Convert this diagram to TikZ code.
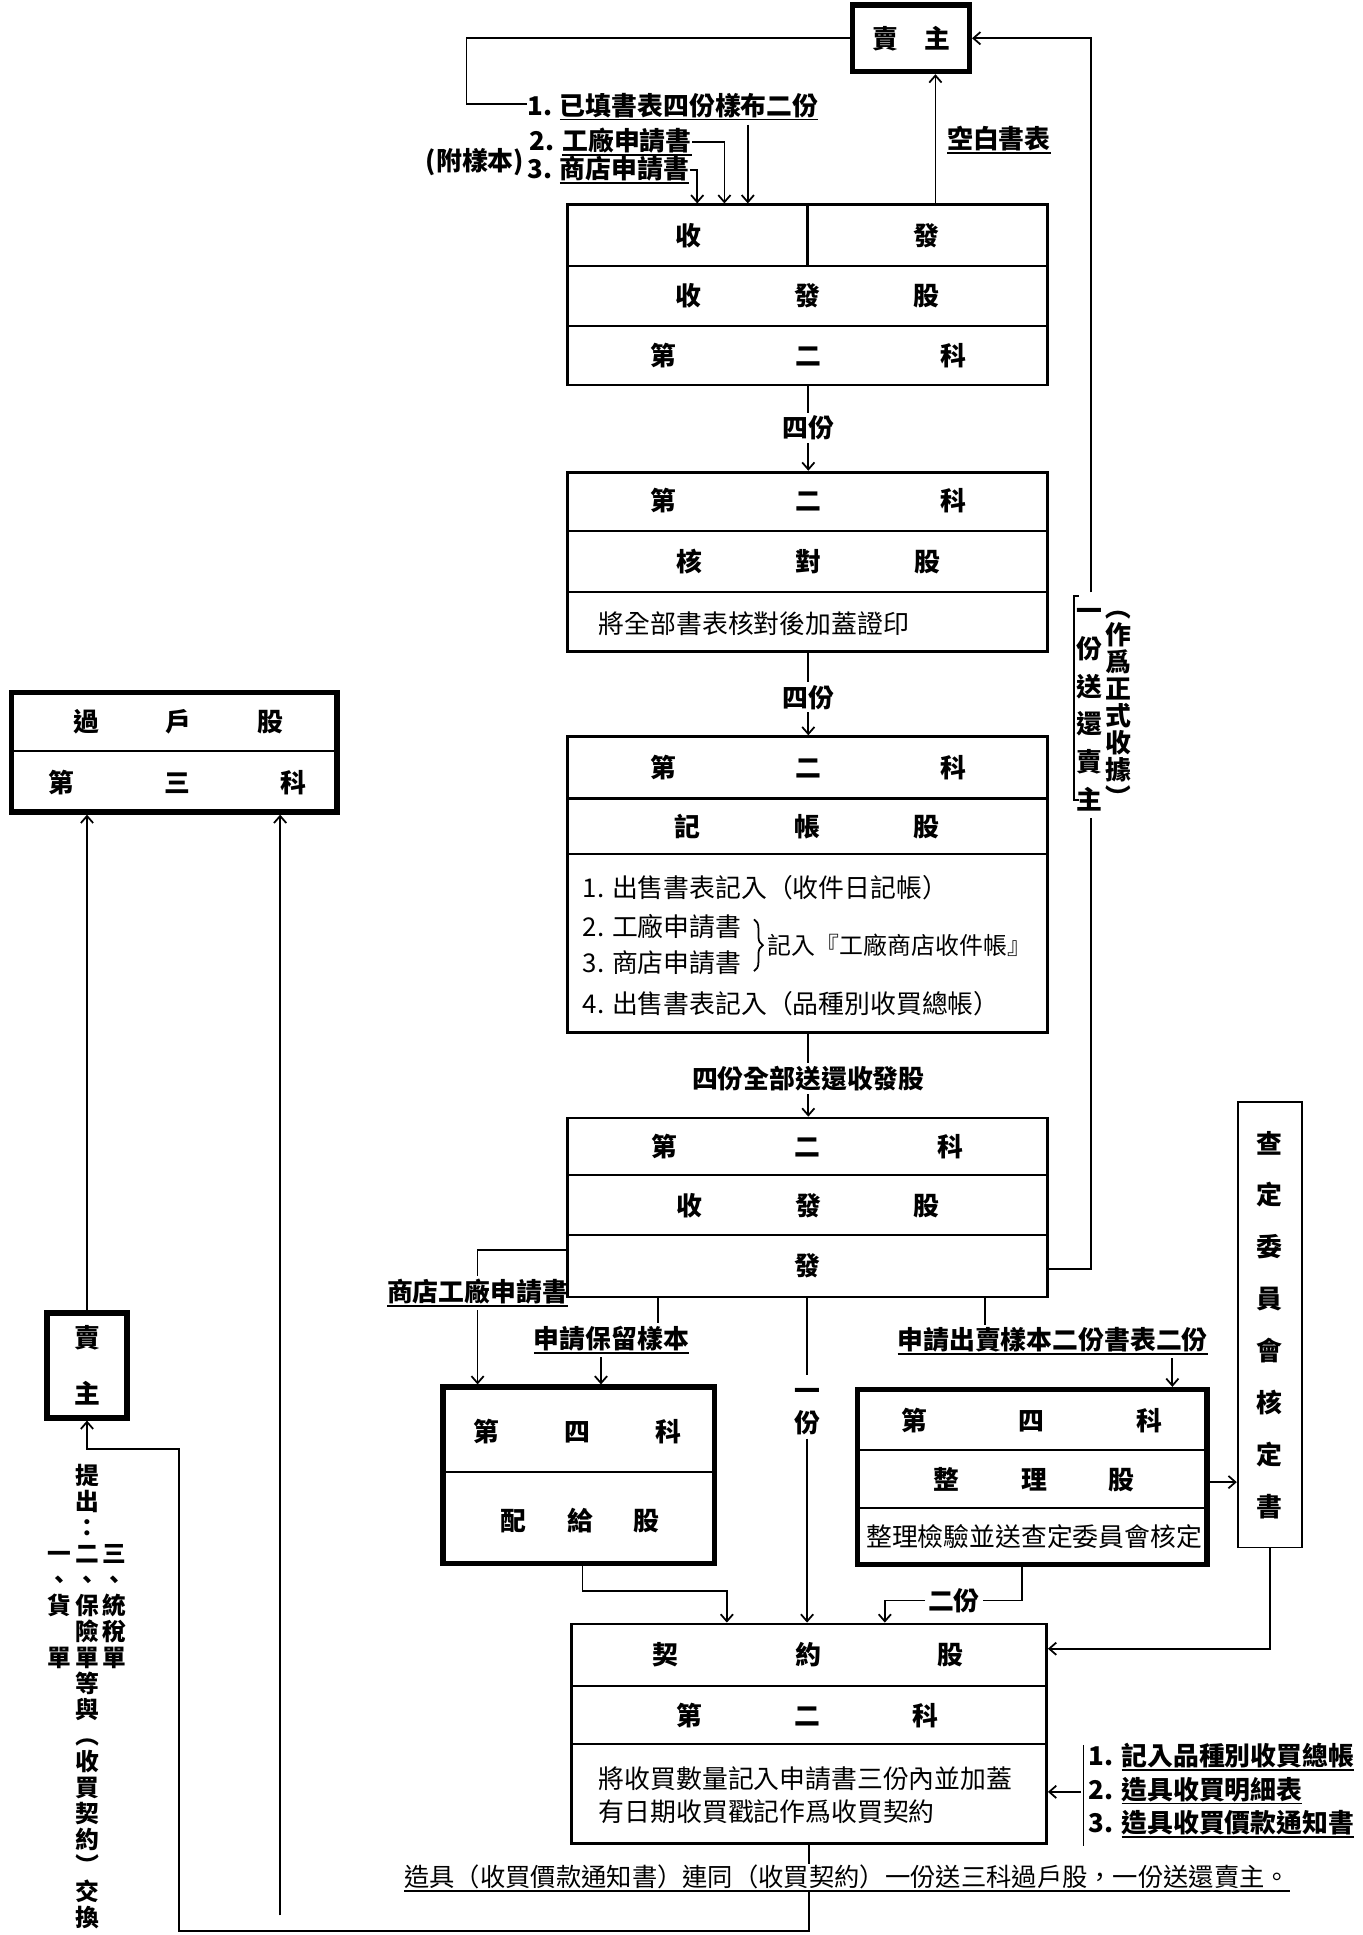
\documentclass[tikz,border=0pt]{standalone}
\usepackage{fontspec}
\usepackage{graphicx}
\newfontfamily\cjk{Noto Sans CJK TC}
\usetikzlibrary{arrows.meta,decorations.pathreplacing}
\newlength\myu \setlength\myu{0.024674cm}
\newcommand\tri[4]{\makebox[#1\myu]{#2}\makebox[#1\myu]{#3}\makebox[#1\myu]{#4}}
\newcommand\myul[1]{\setbox0=\hbox{#1}\rlap{\rule[-3pt]{\wd0}{1pt}}\box0}
\newcommand\mystrut{\vrule width 0pt height 0.88em depth 0.12em}
\newcommand\vpl{\rotatebox[origin=c]{-90}{（}}
\newcommand\vpr{\rotatebox[origin=c]{-90}{）}}
\newcommand\lbf{\cjk\bfseries\fontsize{14.7pt}{17pt}\selectfont}
\newcommand\txf{\cjk\fontsize{14.7pt}{17pt}\selectfont}
\tikzset{
 bx/.style={draw, line width=1.6pt, inner sep=0pt},
 tbx/.style={draw, line width=3pt, inner sep=0pt},
 rl/.style={line width=1.3pt},
 cn/.style={line width=1pt},
 ar/.style={cn, -{Straight Barb[length=4pt,width=7pt]}},
 lb/.style={inner sep=1.5pt, font=\lbf},
 tx/.style={inner sep=0pt, font=\txf},
 cell/.style={inner sep=0pt, font=\lbf},
}
\begin{document}
\begin{tikzpicture}[x=0.024674cm, y=-0.024674cm]
\fill[white] (0,0) rectangle (1104,1568);
\useasboundingbox (0,0) rectangle (1104,1568);

% ---------- top seller
\node[tbx, minimum width=94.5\myu, minimum height=54\myu, font=\lbf] (S1) at (738.3,31) {賣\hspace{1em}主};

\node[lb, anchor=west, inner sep=0pt] (L1) at (427,86.5) {1. \myul{已填書表四份樣布二份}};
\node[lb, anchor=west, inner sep=0pt] (L2) at (429,115) {2. \myul{工廠申請書}};
\node[lb, anchor=west, inner sep=0pt] (L3) at (427,138) {3. \myul{商店申請書}};
\node[lb, anchor=east, inner sep=0pt] (L0) at (425,131) {(附樣本)};
\node[lb] (KB) at (809.5,113.5) {\myul{空白書表}};

\coordinate (c1) at (378,84);
\draw[cn] (S1.west) -| (c1) -- (c1 -| L1.west);

% ---------- box A
\node[bx, minimum width=388.6\myu, minimum height=146\myu] (A) at (654.3,239) {};
\draw[rl] (460,215.6) -- (848.6,215.6) (460,264) -- (848.6,264) (654.3,166) -- (654.3,215.6);
\node[cell] (A11) at (558,191) {收};
\node[cell] (A12) at (751,191) {發};
\node[cell] (A2) at (654.5,240) {\tri{96.5}{收}{發}{股}};
\node[cell] (A3) at (655,288) {\tri{117.5}{第}{二}{科}};

\coordinate (a1) at (606,101);
\draw[ar] (a1) -- (a1 |- A.north);
\coordinate (a2) at (587,0);
\draw[ar] (L2.east) -| (a2 |- A.north);
\coordinate (a3) at (565,0);
\draw[ar] (L3.east) -| (a3 |- A.north);
\coordinate (b1) at (758,0);
\draw[ar] (b1 |- A.north) -- (b1 |- S1.south);

% ---------- box B
\node[lb] (F1) at (655,347) {四份};
\node[bx, minimum width=389\myu, minimum height=145.4\myu] (B) at (654.5,455.3) {};
\draw[rl] (460,430) -- (849,430) (460,480) -- (849,480);
\node[cell] (B1) at (655,406) {\tri{117.5}{第}{二}{科}};
\node[cell] (B2) at (655,455) {\tri{96.5}{核}{對}{股}};
\node[tx, anchor=west] (B3) at (485,505) {將全部書表核對後加蓋證印};
\draw[cn] (F1.north |- A.south) -- (F1.north);
\draw[ar] (F1.south) -- (F1.south |- B.north);

% ---------- box C
\node[lb] (F2) at (655,565) {四份};
\node[bx, minimum width=389\myu, minimum height=239.5\myu] (C) at (654.5,716.75) {};
\draw[rl] (460,647) -- (849,647) (460,692) -- (849,692);
\node[cell] (C01) at (655,622) {\tri{117.5}{第}{二}{科}};
\node[cell] (C02) at (654,670) {\tri{97}{記}{帳}{股}};
\node[tx, anchor=west] (C1) at (472,719) {1. 出售書表記入（收件日記帳）};
\node[tx, anchor=west] (C2) at (472,751) {2. 工廠申請書};
\node[tx, anchor=west] (C3) at (472,780) {3. 商店申請書};
\draw[cn, decorate, decoration={brace, amplitude=5pt}] (611,745) -- (611,787);
\node[tx, anchor=west, font={\txf\fontsize{13.6pt}{16pt}\selectfont}] (C5) at (622,766) {記入『工廠商店收件帳』};
\node[tx, anchor=west] (C4) at (472,813) {4. 出售書表記入（品種別收買總帳）};
\draw[cn] (F2.north |- B.south) -- (F2.north);
\draw[ar] (F2.south) -- (F2.south |- C.north);

% ---------- box D
\node[lb] (F3) at (655,874) {四份全部送還收發股};
\node[bx, minimum width=389\myu, minimum height=145\myu] (D) at (654.5,978.5) {};
\draw[rl] (460,952) -- (849,952) (460,1001) -- (849,1001);
\node[cell] (D1) at (654,929) {\tri{116}{第}{二}{科}};
\node[cell] (D2) at (655,977) {\tri{96}{收}{發}{股}};
\node[cell] (D3) at (654,1026) {發};
\draw[cn] (F3.north |- C.south) -- (F3.north);
\draw[ar] (F3.south) -- (F3.south |- D.north);

% ---------- return line to seller
\coordinate (r1) at (884,1028);
\coordinate (r2) at (884,480);
\coordinate (r3) at (884,663);
\draw[cn] (r1 -| D.east) -- (r1) -- (r3);
\draw[ar] (r2) |- (S1.east);
\node[lb, inner sep=0pt, align=center, font={\lbf\fontsize{14.7pt}{21.5pt}\selectfont}] (RTa) at (883,571.5) {\mystrut 一\\份\\送\\還\\賣\\主\mystrut};
\node[lb, inner sep=0pt, align=center, font={\lbf\fontsize{14.7pt}{15.4pt}\selectfont}] (RTb) at (906,569) {\mystrut\vpl\\作\\爲\\正\\式\\收\\據\\\vpr\mystrut};
\draw[cn] (874,483) -- (870,483) -- (870,648) -- (874,648);

% ---------- branches below D
\node[lb] (LS) at (387,1048) {\myul{商店工廠申請書}};
\node[lb] (LR) at (495.5,1086) {\myul{申請保留樣本}};
\node[lb] (LF) at (853,1087) {\myul{申請出賣樣本二份書表二份}};
\node[lb, align=center, font={\lbf\fontsize{14.7pt}{18.2pt}\selectfont}] (Y1) at (654,1140) {\mystrut 一\\份\mystrut};

% ---------- box E
\node[tbx, minimum width=220\myu, minimum height=143\myu] (E) at (469,1195.5) {};
\draw[rl] (359,1193) -- (579,1193);
\node[cell] (E1) at (468,1160) {\tri{74}{第}{四}{科}};
\node[cell] (E2) at (470,1232) {\tri{54}{配}{給}{股}};

% ---------- box F
\node[tbx, minimum width=283.4\myu, minimum height=142\myu] (F) at (836.3,1197) {};
\draw[rl] (694.6,1175) -- (978,1175) (694.6,1222) -- (978,1222);
\node[cell] (Fa) at (836,1151) {\tri{95}{第}{四}{科}};
\node[cell] (Fb) at (838,1199) {\tri{71}{整}{理}{股}};
\node[tx] (Fc) at (838,1245) {整理檢驗並送查定委員會核定};

% ---------- committee
\node[draw, line width=1.1pt, minimum width=52\myu, minimum height=361\myu, inner sep=0pt, align=center, font={\lbf\fontsize{14.7pt}{29.5pt}\selectfont}] (Q) at (1029,1073.5) {\mystrut 查\\定\\委\\員\\會\\核\\定\\書\mystrut};

\coordinate (d1) at (387,1013);
\draw[cn] (d1 -| D.west) -- (d1) -- (LS.north);
\draw[ar] (LS.south) -- (LS.south |- E.north);
\coordinate (d2) at (533,0);
\draw[cn] (d2 |- D.south) -- (d2 |- LR.north);
\coordinate (d3) at (487,0);
\draw[ar] (d3 |- LR.south) -- (d3 |- E.north);
\coordinate (d4) at (798,0);
\draw[cn] (d4 |- D.south) -- (d4 |- LF.north);
\coordinate (d5) at (950,0);
\draw[ar] (d5 |- LF.south) -- (d5 |- F.north);
\coordinate (q1) at (0,1201);
\draw[ar] (F.east |- q1) -- (Q.west |- q1);

% ---------- box G
\node[bx, minimum width=385\myu, minimum height=178\myu] (G) at (655.5,1405) {};
\draw[rl] (463,1366) -- (848,1366) (463,1413) -- (848,1413);
\node[cell] (G1) at (655,1341) {\tri{115.5}{契}{約}{股}};
\node[cell] (G2) at (654.5,1390) {\tri{95.5}{第}{二}{科}};
\node[tx, anchor=west] (G3) at (485,1441) {將收買數量記入申請書三份內並加蓋};
\node[tx, anchor=west] (G4) at (485,1468) {有日期收買戳記作爲收買契約};

\draw[cn] (Y1.north |- D.south) -- (Y1.north);
\draw[ar] (Y1.south) -- (Y1.south |- G.north);
\coordinate (g1) at (0,1336);
\draw[ar] (Q.south) |- (G.east |- g1);
\coordinate (e1) at (472,1289);
\coordinate (e2) at (589,0);
\draw[ar] (e1 |- E.south) -- (e1) -| (e2 |- G.north);
\node[lb] (T2) at (773,1297) {二份};
\coordinate (f1) at (828,1297);
\coordinate (f2) at (717,1297);
\draw[cn] (f1 |- F.south) -- (f1) -- (T2.east);
\draw[ar] (T2.west) -- (f2) -- (f2 |- G.north);

% ---------- right list
\node[lb, anchor=west, inner sep=0pt] (RL1) at (882,1424) {1. \myul{記入品種別收買總帳}};
\node[lb, anchor=west, inner sep=0pt] (RL2) at (882,1451) {2. \myul{造具收買明細表}};
\node[lb, anchor=west, inner sep=0pt] (RL3) at (882,1478) {3. \myul{造具收買價款通知書}};
\draw[cn] (878,1414) -- (878,1496);
\coordinate (rl) at (876,1452);
\draw[ar] (rl) -- (rl -| G.east);

% ---------- bottom
\node[tx, font={\txf\fontsize{14.4pt}{17pt}\selectfont}] (BT) at (686.5,1522) {\myul{造具（收買價款通知書）連同（收買契約）一份送三科過戶股，一份送還賣主。}};

% ---------- left side
\node[tbx, minimum width=263.5\myu, minimum height=97\myu] (I) at (141.3,609.5) {};
\draw[rl] (9.5,608.5) -- (273,608.5);
\node[cell] (I1) at (144.5,585) {\tri{74.5}{過}{戶}{股}};
\node[cell] (I2) at (144,634) {\tri{94}{第}{三}{科}};

\node[tbx, minimum width=65\myu, minimum height=85\myu, align=center, font={\lbf\fontsize{14.7pt}{31.6pt}\selectfont}] (H) at (70.5,1106.5) {\mystrut 賣\\主\mystrut};

\coordinate (bl) at (655.5,1565);
\coordinate (bh) at (145,1174);
\draw[cn] (G.south) -- (G.south |- BT.north);
\draw[ar] (G.south |- BT.south) -- (bl) -| (bh) -- (bh -| H.south) -- (H.south);
\draw[ar] (H.north) -- (H.north |- I.south);
\coordinate (k1) at (227,1552);
\draw[ar] (k1) -- (k1 |- I.south);

\node[lb, inner sep=0pt, align=center, font={\lbf\fontsize{13.5pt}{14.8pt}\selectfont}] (V1) at (71,1374.5) {\mystrut 提\\出\\：\\二\\、\\保\\險\\單\\等\\與\\\vpl\\收\\買\\契\\約\\\vpr\\交\\換\mystrut};
\node[lb, inner sep=0pt, align=center, font={\lbf\fontsize{13.5pt}{14.8pt}\selectfont}] (V2) at (48,1301) {\mystrut 一\\、\\貨\\\mbox{}\\單\mystrut};
\node[lb, inner sep=0pt, align=center, font={\lbf\fontsize{13.5pt}{14.8pt}\selectfont}] (V3) at (93,1301) {\mystrut 三\\、\\統\\稅\\單\mystrut};
\end{tikzpicture}
\end{document}
